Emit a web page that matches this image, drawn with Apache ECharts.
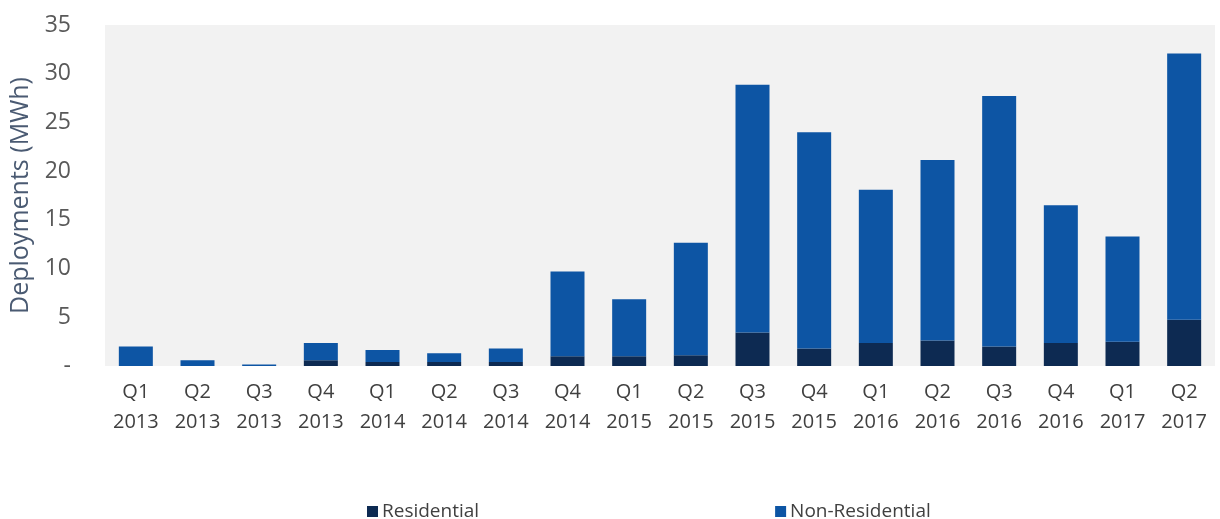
<!DOCTYPE html>
<html>
<head>
<meta charset="utf-8">
<script src="https://cdn.jsdelivr.net/npm/echarts@6/dist/echarts.min.js"></script>
<style>
html,body{margin:0;padding:0;background:#fff;}
#chart{width:1220px;height:519px;}
</style>
</head>
<body>
<div id="chart"></div>
<script>
var categories = ['Q1\n2013','Q2\n2013','Q3\n2013','Q4\n2013','Q1\n2014','Q2\n2014','Q3\n2014','Q4\n2014','Q1\n2015','Q2\n2015','Q3\n2015','Q4\n2015','Q1\n2016','Q2\n2016','Q3\n2016','Q4\n2016','Q1\n2017','Q2\n2017'];
var residential = [0, 0, 0, 0.58, 0.4, 0.4, 0.4, 1.0, 1.0, 1.1, 3.45, 1.8, 2.35, 2.63, 2.0, 2.35, 2.5, 4.74];
var nonResidential = [2.0, 0.6, 0.15, 1.77, 1.25, 0.9, 1.4, 8.7, 5.86, 11.56, 25.41, 22.2, 15.75, 18.52, 25.7, 14.15, 10.8, 27.33];
var yTicks = ['-', '5', '10', '15', '20', '25', '30', '35'];

var chart = echarts.init(document.getElementById('chart'));
var font = 'Open Sans';
chart.setOption({
  animation: false,
  backgroundColor: '#ffffff',
  textStyle: { fontFamily: font },
  grid: { left: 104, right: 5, top: 25, bottom: 153, show: true, backgroundColor: '#f2f2f2', borderWidth: 0 },
  legend: {
    left: 362, top: 497,
    itemWidth: 11, itemHeight: 11, itemGap: 296,
    icon: 'rect',
    textStyle: { fontFamily: font, fontSize: 19, color: '#404040', padding: [0,0,0,-1] },
    data: ['Residential', 'Non-Residential']
  },
  xAxis: {
    type: 'category',
    data: categories,
    axisLine: { show: false },
    axisTick: { show: false },
    axisLabel: { fontFamily: font, fontSize: 20, color: '#404040', lineHeight: 30, margin: 11 }
  },
  yAxis: {
    type: 'value',
    min: 0, max: 35, interval: 5,
    name: 'Deployments (MWh)',
    nameLocation: 'middle',
    nameGap: 72,
    nameTextStyle: { fontFamily: font, fontSize: 25, color: '#4a5a72' },
    splitLine: { show: false },
    axisLine: { show: false },
    axisTick: { show: false },
    axisLabel: {
      fontFamily: font, fontSize: 23, color: '#595959', margin: 34,
      formatter: function (v) { return yTicks[Math.round(v / 5)]; }
    }
  },
  series: [
    { name: 'Residential', type: 'bar', stack: 'total', barWidth: 34, data: residential, itemStyle: { color: '#0d2a52' } },
    { name: 'Non-Residential', type: 'bar', stack: 'total', barWidth: 34, data: nonResidential, itemStyle: { color: '#0d55a4' } }
  ]
});
</script>
</body>
</html>
